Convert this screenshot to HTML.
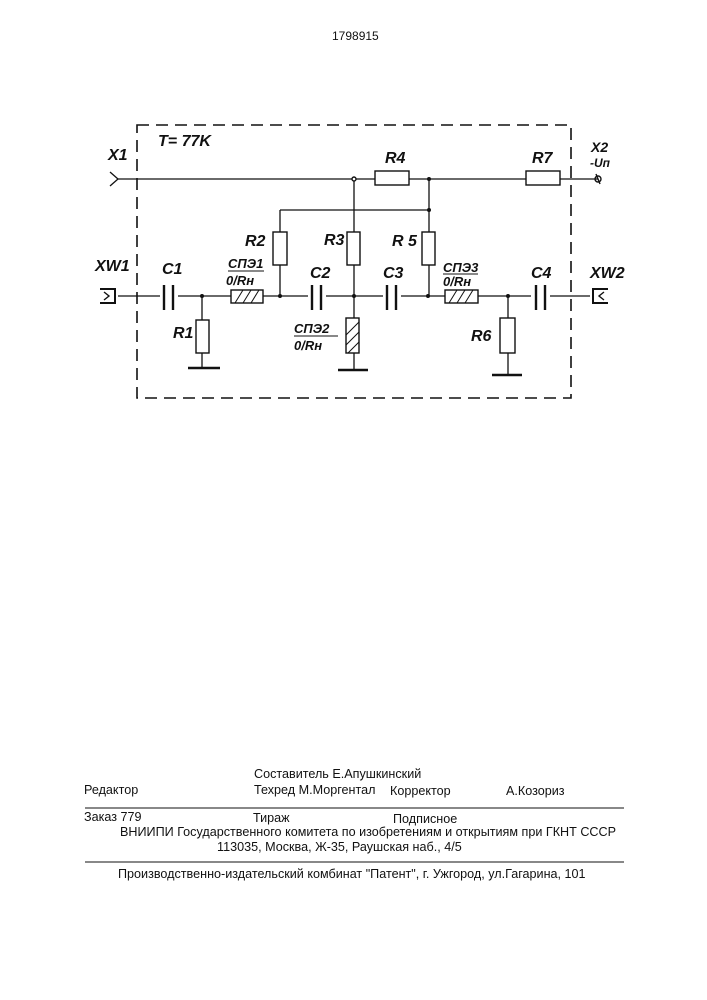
<!DOCTYPE html><html><head><meta charset="utf-8"><style>
body{margin:0;background:#fff;width:707px;height:1000px;overflow:hidden;position:relative;font-family:"Liberation Sans",sans-serif;color:#111}
.t{position:absolute;font-size:12.6px;white-space:nowrap}
</style></head><body>
<div class="t" style="left:332px;top:29px;font-size:12px">1798915</div>
<svg width="707" height="1000" style="position:absolute;left:0;top:0" font-family="Liberation Sans" font-style="italic" font-weight="bold" fill="none" stroke="#111" stroke-width="1.4">
<rect x="137" y="125" width="434" height="273" stroke-dasharray="12,7" stroke-width="1.6"/>
<g stroke-width="1.3">
<line x1="118" y1="179" x2="598" y2="179"/>
<path d="M110 172 L118 179 L110 186"/>
<line x1="280" y1="210" x2="429" y2="210"/>
<line x1="354" y1="179" x2="354" y2="370"/>
<line x1="429" y1="179" x2="429" y2="296"/>
<line x1="280" y1="210" x2="280" y2="296"/>
<line x1="118" y1="296" x2="590" y2="296"/>
<line x1="202" y1="296" x2="202" y2="368"/>
<line x1="508" y1="296" x2="508" y2="375"/>
<line x1="188" y1="368" x2="220" y2="368" stroke-width="2.5"/>
<line x1="338" y1="370" x2="368" y2="370" stroke-width="2.5"/>
<line x1="492" y1="375" x2="522" y2="375" stroke-width="2.5"/>
</g>
<g fill="#fff">
<rect x="375" y="171" width="34" height="14"/>
<rect x="526" y="171" width="34" height="14"/>
<rect x="273" y="232" width="14" height="33"/>
<rect x="347" y="232" width="13" height="33"/>
<rect x="422" y="232" width="13" height="33"/>
<rect x="196" y="320" width="13" height="33"/>
<rect x="500" y="318" width="15" height="35"/>
<rect x="231" y="290" width="32" height="13"/>
<rect x="445" y="290" width="33" height="13"/>
<rect x="346" y="318" width="13" height="35"/>
<rect x="160" y="284" width="18" height="26" stroke="none"/>
<rect x="308" y="284" width="18" height="26" stroke="none"/>
<rect x="383" y="284" width="18" height="26" stroke="none"/>
<rect x="531" y="284" width="19" height="26" stroke="none"/>
</g>
<g stroke-width="1">
<path d="M235 303l8-13M243 303l8-13M251 303l8-13"/>
<path d="M449 303l8-13M457 303l8-13M465 303l8-13"/>
<path d="M346 335l13-13M346 345l13-13M348 353l11-11"/>
</g>
<g stroke-width="2.4">
<line x1="164" y1="285" x2="164" y2="310"/><line x1="173" y1="285" x2="173" y2="310"/>
<line x1="312" y1="285" x2="312" y2="310"/><line x1="321" y1="285" x2="321" y2="310"/>
<line x1="387" y1="285" x2="387" y2="310"/><line x1="396" y1="285" x2="396" y2="310"/>
<line x1="536" y1="285" x2="536" y2="310"/><line x1="545" y1="285" x2="545" y2="310"/>
</g>
<path d="M100 289h15v14h-15" stroke-width="2"/><path d="M104 292l5 4-5 4"/>
<path d="M608 289h-15v14h15" stroke-width="2"/><path d="M604 292l-5 4 5 4"/>
<circle cx="354" cy="179" r="2" fill="#fff"/>
<g fill="#111" stroke="none">
<circle cx="429" cy="179" r="2"/><circle cx="429" cy="210" r="2"/><circle cx="202" cy="296" r="2"/><circle cx="280" cy="296" r="2"/><circle cx="354" cy="296" r="2"/><circle cx="428" cy="296" r="2"/><circle cx="508" cy="296" r="2"/>
</g>
<path d="M596 174 l4 10" />
<circle cx="598" cy="179" r="3"/>
<g fill="#111" stroke="none" font-size="16">
<text x="158" y="146">T= 77K</text>
<text x="108" y="160">X1</text>
<text x="385" y="163">R4</text>
<text x="532" y="163">R7</text>
<text x="591" y="152" font-size="14">X2</text>
<text x="590" y="167" font-size="12">-Uп</text>
<text x="245" y="246">R2</text>
<text x="324" y="245">R3</text>
<text x="392" y="246">R 5</text>
<text x="95" y="271">XW1</text>
<text x="162" y="274">C1</text>
<text x="310" y="278">C2</text>
<text x="383" y="278">C3</text>
<text x="531" y="278">C4</text>
<text x="590" y="278">XW2</text>
<text x="173" y="338">R1</text>
<text x="471" y="341">R6</text>
<g font-size="13"><text x="228" y="268">СПЭ1</text><text x="226" y="285">0/Rн</text>
<text x="443" y="272">СПЭ3</text><text x="443" y="286">0/Rн</text>
<text x="294" y="333">СПЭ2</text><text x="294" y="350">0/Rн</text></g>
</g>
<g stroke-width="1"><line x1="228" y1="271" x2="264" y2="271"/><line x1="443" y1="274" x2="478" y2="274"/><line x1="294" y1="336" x2="338" y2="336"/></g>
<line x1="85" y1="808" x2="624" y2="808" stroke-width="1"/>
<line x1="85" y1="862" x2="624" y2="862" stroke-width="1"/>
</svg>
<div class="t" style="left:254px;top:767px">Составитель Е.Апушкинский</div>
<div class="t" style="left:84px;top:783px">Редактор</div>
<div class="t" style="left:254px;top:783px">Техред М.Моргентал</div>
<div class="t" style="left:390px;top:784px">Корректор</div>
<div class="t" style="left:506px;top:784px">А.Козориз</div>
<div class="t" style="left:84px;top:810px">Заказ 779</div>
<div class="t" style="left:253px;top:811px">Тираж</div>
<div class="t" style="left:393px;top:812px">Подписное</div>
<div class="t" style="left:120px;top:825px">ВНИИПИ Государственного комитета по изобретениям и открытиям при ГКНТ СССР</div>
<div class="t" style="left:217px;top:840px">113035, Москва, Ж-35, Раушская наб., 4/5</div>
<div class="t" style="left:118px;top:867px">Производственно-издательский комбинат "Патент", г. Ужгород, ул.Гагарина, 101</div>
</body></html>
